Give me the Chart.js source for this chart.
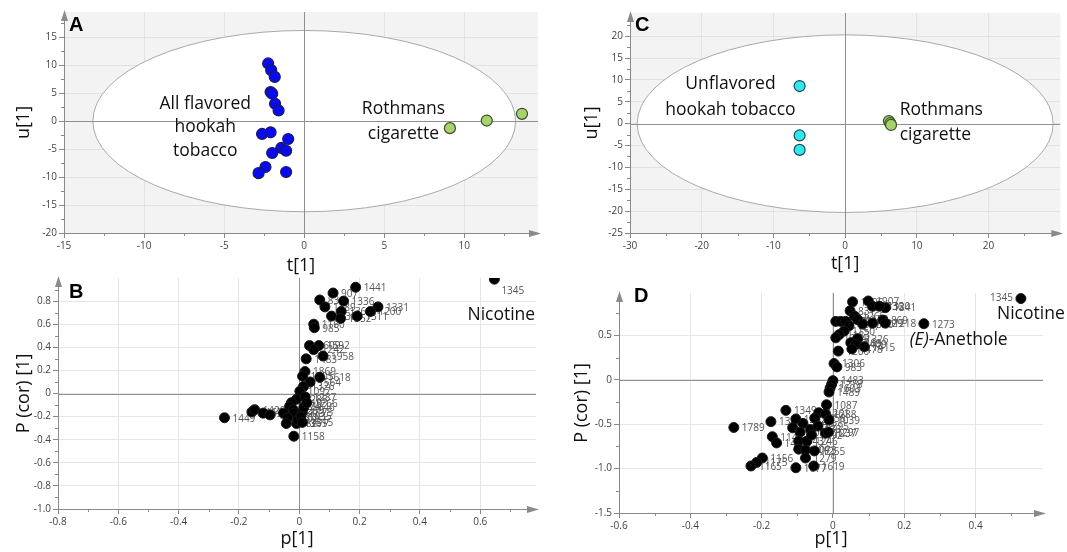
<!DOCTYPE html>
<html>
<head>
<meta charset="utf-8">
<script src="https://cdn.jsdelivr.net/npm/chart.js@4.4.1/dist/chart.umd.min.js"></script>
<style>
  body { margin: 0; background: #fff; }
  #wrap { position: relative; width: 1067px; height: 552px; overflow: hidden; }
  canvas { position: absolute; }
  #chartA { left: 0px; top: 0px; }
  #chartB { left: 0px; top: 260px; }
  #chartC { left: 560px; top: 0px; }
  #chartD { left: 560px; top: 270px; }
</style>
</head>
<body>
<div id="wrap">
  <canvas id="chartA" width="552" height="280"></canvas>
  <canvas id="chartB" width="552" height="292"></canvas>
  <canvas id="chartC" width="507" height="280"></canvas>
  <canvas id="chartD" width="507" height="282"></canvas>
</div>
<script>
// ---- panel A: scores, all flavored hookah vs Rothmans
const aFlavX = [-2.25, -2.06, -1.84, -2.1, -2.0, -1.82, -1.6, -2.63, -2.1, -1.0, -1.43, -1.13, -2.0, -2.42, -2.85, -1.13];
const aFlavY = [10.3, 9.1, 7.9, 5.2, 4.9, 3.1, 1.9, -2.3, -2.0, -3.2, -4.8, -5.3, -5.7, -8.2, -9.3, -9.1];
const aRothX = [9.1, 11.4, 13.6];
const aRothY = [-1.26, 0.1, 1.3];
const aTicksX = [-15, -10, -5, 0, 5, 10];
const aTicksY = [-20, -15, -10, -5, 0, 5, 10, 15];

// ---- panel C: scores, unflavored hookah vs Rothmans
const cUnflX = [-6.35, -6.35, -6.35];
const cUnflY = [8.6, -2.7, -6.0];
const cRothX = [6.1, 6.3, 6.4];
const cRothY = [0.6, 0.1, -0.3];
const cTicksX = [-30, -20, -10, 0, 10, 20];
const cTicksY = [-25, -20, -15, -10, -5, 0, 5, 10, 15, 20];

// ---- panel B: S-plot
const bX = [0.647, 0.187, 0.112, 0.068, 0.147, 0.085, 0.261, 0.236, 0.139, 0.107, 0.137, 0.192, 0.048, 0.05,
  0.034, 0.065, 0.048, 0.079, 0.023, 0.019, 0.011, 0.068, 0.036, 0.014, 0.002, -0.009, -0.026, -0.032, -0.02,
  -0.052, -0.018, -0.038, -0.043, -0.009, 0.01, -0.005, -0.018, -0.248, -0.157, -0.148, -0.12, -0.097,
  0.005, 0.015, 0.02, 0.01, 0.025];
const bY = [0.99, 0.92, 0.87, 0.81, 0.80, 0.75, 0.75, 0.71, 0.71, 0.67, 0.65, 0.67, 0.60, 0.57,
  0.415, 0.415, 0.38, 0.325, 0.30, 0.19, 0.15, 0.14, 0.10, 0.06, 0.02, -0.05, -0.08, -0.11, -0.14,
  -0.17, -0.17, -0.21, -0.26, -0.26, -0.16, -0.23, -0.37, -0.21, -0.16, -0.14, -0.17, -0.185,
  -0.2, -0.12, -0.03, -0.25, -0.08];
const bLabels = ['1345', '1441', '907', '831', '1336', '1389', '1331', '1200', '1368', '1386', '1352', '1311', '1160', '985',
  '1609', '1592', '1242', '1958', '1483', '1869', '1205', '1618', '1564', '1326', '1097', '1285', '1410', '1374', '1239',
  '1557', '1213', '1302', '1082', '1365', '1175', '1255', '1158', '1449', '1167', '1420', '1552', '1193',
  '1035', '1146', '1287', '1315', '1266'];
const bTicksX = [-0.8, -0.6, -0.4, -0.2, 0, 0.2, 0.4, 0.6];
const bTicksY = [-1, -0.8, -0.6, -0.4, -0.2, 0, 0.2, 0.4, 0.6, 0.8];

// ---- panel D: S-plot
const dX = [0.527, 0.255, 0.099, 0.055, 0.111, 0.147, 0.13, 0.048, 0.06, 0.069, 0.008, 0.022, 0.036, 0.14, 0.111,
  0.147, 0.083, 0.045, 0.031, 0.017, 0.008, 0.069, 0.05, 0.064, 0.088, 0.053, 0.015, 0.003, 0.011, 0.0, -0.004,
  -0.008, -0.011, -0.018, -0.132, -0.04, -0.021, -0.174, -0.278, -0.104, -0.084, -0.051, -0.011, -0.113, -0.063,
  -0.042, -0.021, -0.092, -0.013, -0.17, -0.158, -0.096, -0.073, -0.06, -0.096, -0.077, -0.052, -0.077, -0.198,
  -0.214, -0.23, -0.104, -0.054];
const dY = [0.917, 0.634, 0.89, 0.88, 0.83, 0.815, 0.83, 0.78, 0.72, 0.68, 0.66, 0.66, 0.66, 0.675, 0.64,
  0.64, 0.63, 0.61, 0.55, 0.51, 0.475, 0.465, 0.42, 0.40, 0.375, 0.35, 0.325, 0.185, 0.147, -0.008, -0.053,
  -0.09, -0.136, -0.28, -0.343, -0.37, -0.385, -0.47, -0.536, -0.44, -0.49, -0.43, -0.45, -0.54, -0.56,
  -0.52, -0.60, -0.59, -0.59, -0.64, -0.71, -0.69, -0.69, -0.62, -0.78, -0.79, -0.80, -0.88, -0.88,
  -0.93, -0.97, -0.99, -0.97];
const dLabels = ['1345', '1273', '1907', '1296', '1336', '1341', '1320', '831', '1265', '1150', '1412', '1190', '1098', '869', '1229',
  '1218', '1330', '1277', '1150', '1183', '1224', '1326', '1109', '1409', '1415', '1478', '1260', '1306', '983', '1483', '1278',
  '1603', '1489', '1087', '1349', '1261', '1288', '1343', '1789', '1222', '1140', '1358', '1039', '1204', '1133',
  '1395', '1237', '1052', '1297', '1141', '1401', '1437', '1246', '1192', '1404', '1073', '1255', '1279', '1156',
  '1175', '1165', '1077', '1619'];
const dTicksX = [-0.6, -0.4, -0.2, 0, 0.2, 0.4];
const dTicksY = [-1.5, -1, -0.5, 0, 0.5];

const FONT = "'Open Sans', 'Noto Sans', sans-serif";

function pts(xs, ys) {
  return xs.map((x, i) => ({ x: x, y: ys[i] }));
}

// extra drawing per canvas (ellipse, letters, notes, point labels)
const extras = {
  chartA: {
    bg: '#f3f3f3', ellipse: [13.2, 16.2], letter: 'A', letterAt: [5, 19],
    notes: [
      { x: -6.18, y: 3.1, text: 'All flavored', align: 'center' },
      { x: -6.18, y: -1.1, text: 'hookah', align: 'center' },
      { x: -6.18, y: -5.4, text: 'tobacco', align: 'center' },
      { x: 6.2, y: 2.2, text: 'Rothmans', align: 'center' },
      { x: 6.2, y: -2.3, text: 'cigarette', align: 'center' }
    ]
  },
  chartC: {
    bg: '#f3f3f3', ellipse: [29, 20.3], letter: 'C', letterAt: [5, 18],
    notes: [
      { x: -16.0, y: 9.0, text: 'Unflavored', align: 'center' },
      { x: -16.0, y: 3.2, text: 'hookah tobacco', align: 'center' },
      { x: 7.6, y: 3.2, text: 'Rothmans', align: 'left' },
      { x: 7.6, y: -2.5, text: 'cigarette', align: 'left' }
    ]
  },
  chartB: {
    letter: 'B', letterAt: [11, 20], labels: bLabels, labelSide: { '1345': 'below' },
    notes: [{ x: 0.67, y: 0.68, text: 'Nicotine', align: 'center' }]
  },
  chartD: {
    letter: 'D', letterAt: [15, 9], labels: dLabels, labelSide: { '1345': 'left' },
    notes: [
      { x: 0.555, y: 0.74, text: 'Nicotine', align: 'center' },
      { x: 0.215, y: 0.45, parts: [['(E)', 'italic '], ['-Anethole', '']], align: 'left' }
    ]
  }
};

const panelDecor = {
  id: 'panelDecor',
  beforeDraw(chart) {
    const ex = extras[chart.canvas.id];
    const { ctx, chartArea: a } = chart;
    if (ex.bg) {
      ctx.save();
      ctx.fillStyle = ex.bg;
      ctx.fillRect(a.left, a.top, a.right - a.left, a.bottom - a.top);
      ctx.restore();
    }
  },
  beforeDatasetsDraw(chart) {
    const ex = extras[chart.canvas.id];
    const { ctx, chartArea: a } = chart;
    const x = chart.scales.x, y = chart.scales.y;
    ctx.save();
    if (ex.ellipse) {
      const cx = x.getPixelForValue(0), cy = y.getPixelForValue(0);
      const rx = x.getPixelForValue(ex.ellipse[0]) - cx;
      const ry = cy - y.getPixelForValue(ex.ellipse[1]);
      ctx.beginPath();
      ctx.ellipse(cx, cy, rx, ry, 0, 0, Math.PI * 2);
      ctx.fillStyle = '#fff';
      ctx.fill();
      ctx.strokeStyle = '#a9a9a9';
      ctx.lineWidth = 1;
      ctx.stroke();
    }
    // zero lines
    const x0 = Math.round(x.getPixelForValue(0)) + 0.5;
    const y0 = Math.round(y.getPixelForValue(0)) + 0.5;
    ctx.strokeStyle = '#8f8f8f';
    ctx.lineWidth = 1;
    ctx.beginPath();
    ctx.moveTo(x0, a.top); ctx.lineTo(x0, a.bottom);
    ctx.moveTo(a.left, y0); ctx.lineTo(a.right, y0);
    ctx.stroke();
    // variable labels (drawn under the points like in SIMCA)
    if (ex.labels) {
      const meta = chart.getDatasetMeta(0);
      ctx.font = '10px ' + FONT;
      ctx.fillStyle = '#555';
      meta.data.forEach((p, i) => {
        const t = ex.labels[i];
        const side = ex.labelSide[t];
        if (side === 'left') {
          ctx.textAlign = 'right'; ctx.textBaseline = 'middle';
          ctx.fillText(t, p.x - 8, p.y);
        } else if (side === 'below') {
          ctx.textAlign = 'left'; ctx.textBaseline = 'middle';
          ctx.fillText(t, p.x + 7, p.y + 12);
        } else {
          ctx.textAlign = 'left'; ctx.textBaseline = 'middle';
          ctx.fillText(t, p.x + 8, p.y + 1);
        }
      });
    }
    ctx.restore();
  },
  afterDraw(chart) {
    const ex = extras[chart.canvas.id];
    const { ctx, chartArea: a } = chart;
    const x = chart.scales.x, y = chart.scales.y;
    ctx.save();
    // minor ticks halfway between labelled ticks
    ctx.strokeStyle = '#888';
    ctx.lineWidth = 1;
    ctx.beginPath();
    const minor = (sc, horiz) => {
      const t = sc.ticks.map(k => k.value);
      const step = t[1] - t[0];
      for (let v = t[0] + step / 2; v < sc.max; v += step) {
        const p = Math.round(sc.getPixelForValue(v)) + 0.5;
        if (horiz) { ctx.moveTo(p, a.bottom); ctx.lineTo(p, a.bottom + 3); }
        else { ctx.moveTo(a.left, p); ctx.lineTo(a.left - 3, p); }
      }
    };
    minor(x, true);
    minor(y, false);
    ctx.stroke();
    // arrow heads
    ctx.fillStyle = '#8a8a8a';
    const lx = Math.round(a.left) + 0.5, by = Math.round(a.bottom) + 0.5;
    ctx.beginPath();
    ctx.moveTo(lx, a.top - 2); ctx.lineTo(lx - 3.5, a.top + 9); ctx.lineTo(lx + 3.5, a.top + 9); ctx.closePath();
    ctx.fill();
    ctx.beginPath();
    ctx.moveTo(a.right + 3, by); ctx.lineTo(a.right - 9, by - 3.5); ctx.lineTo(a.right - 9, by + 3.5); ctx.closePath();
    ctx.fill();
    // panel letter
    ctx.fillStyle = '#000';
    ctx.font = "bold 20px 'Liberation Sans', Arial, sans-serif";
    ctx.textAlign = 'left';
    ctx.textBaseline = 'alphabetic';
    ctx.fillText(ex.letter, a.left + ex.letterAt[0], a.top + ex.letterAt[1]);
    // annotations
    ctx.fillStyle = '#111';
    ctx.textBaseline = 'middle';
    ex.notes.forEach(n => {
      const px = x.getPixelForValue(n.x), py = y.getPixelForValue(n.y);
      if (n.parts) {
        let cx = px;
        n.parts.forEach(([txt, style]) => {
          ctx.font = style + '17.5px ' + FONT;
          ctx.textAlign = 'left';
          ctx.fillText(txt, cx, py);
          cx += ctx.measureText(txt).width;
        });
      } else {
        ctx.font = '17.5px ' + FONT;
        ctx.textAlign = n.align;
        ctx.fillText(n.text, px, py);
      }
    });
    ctx.restore();
  }
};

function axis(min, max, ticks, title, titlePad, size, gridColor) {
  return {
    type: 'linear',
    min: min,
    max: max,
    afterBuildTicks: sc => { sc.ticks = ticks.map(v => ({ value: v })); },
    afterFit: sc => {
      if (sc.isHorizontal()) sc.height = size; else sc.width = size;
    },
    grid: { color: gridColor, tickColor: '#888', tickLength: 5 },
    border: { color: '#8a8a8a', width: 1 },
    ticks: { color: '#444', font: { family: FONT, size: 10 }, padding: 2, maxRotation: 0 },
    title: { display: true, text: title, color: '#111', font: { family: FONT, size: 18 }, padding: titlePad }
  };
}

function makeChart(id, datasets, scales, padding) {
  return new Chart(document.getElementById(id), {
    type: 'scatter',
    data: { datasets: datasets },
    options: {
      responsive: false,
      animation: false,
      layout: { padding: padding },
      plugins: { legend: { display: false }, tooltip: { enabled: false } },
      scales: scales
    },
    plugins: [panelDecor]
  });
}

const blackPts = data => ({
  data: data, pointRadius: 5, pointBackgroundColor: '#000', pointBorderColor: '#1a1a1a', pointBorderWidth: 1
});

makeChart('chartA', [
  { data: pts(aFlavX, aFlavY), pointRadius: 5.5, pointBackgroundColor: '#0a0aee', pointBorderColor: '#1b1b5e', pointBorderWidth: 1.2 },
  { data: pts(aRothX, aRothY), pointRadius: 5.5, pointBackgroundColor: '#a6d46b', pointBorderColor: '#3e4c30', pointBorderWidth: 1.2 }
], {
  x: axis(-15, 14.6, aTicksX, 't[1]', { top: 0, bottom: 3 }, 47, '#e3e3e3'),
  y: axis(-20, 19.5, aTicksY, 'u[1]', { top: 13, bottom: 0 }, 64, '#e3e3e3')
}, { top: 12, right: 14, left: 0, bottom: 0 });

makeChart('chartC', [
  { data: pts(cUnflX, cUnflY), pointRadius: 5.5, pointBackgroundColor: '#2ee9f2', pointBorderColor: '#1c4b5a', pointBorderWidth: 1.2 },
  { data: pts(cRothX, cRothY), pointRadius: 5.5, pointBackgroundColor: '#a6d46b', pointBorderColor: '#3e4c30', pointBorderWidth: 1.2 }
], {
  x: axis(-30, 30, cTicksX, 't[1]', { top: 0, bottom: 5 }, 47, '#e3e3e3'),
  y: axis(-25, 25.3, cTicksY, 'u[1]', { top: 21, bottom: 0 }, 70, '#e3e3e3')
}, { top: 13, right: 4, left: 0, bottom: 0 });

makeChart('chartB', [blackPts(pts(bX, bY))], {
  x: axis(-0.8, 0.785, bTicksX, 'p[1]', { top: 0, bottom: 2 }, 43, '#e6e6e6'),
  y: axis(-1, 1.0, bTicksY, 'P (cor) [1]', { top: 13, bottom: 0 }, 58, '#e6e6e6')
}, { top: 18, right: 16, left: 0, bottom: 0 });

makeChart('chartD', [blackPts(pts(dX, dY))], {
  x: axis(-0.6, 0.589, dTicksX, 'p[1]', { top: 0, bottom: 2 }, 39, '#e6e6e6'),
  y: axis(-1.5, 0.98, dTicksY, 'P (cor) [1]', { top: 11, bottom: 0 }, 59, '#e6e6e6')
}, { top: 23, right: 24, left: 0, bottom: 0 });
</script>
</body>
</html>
